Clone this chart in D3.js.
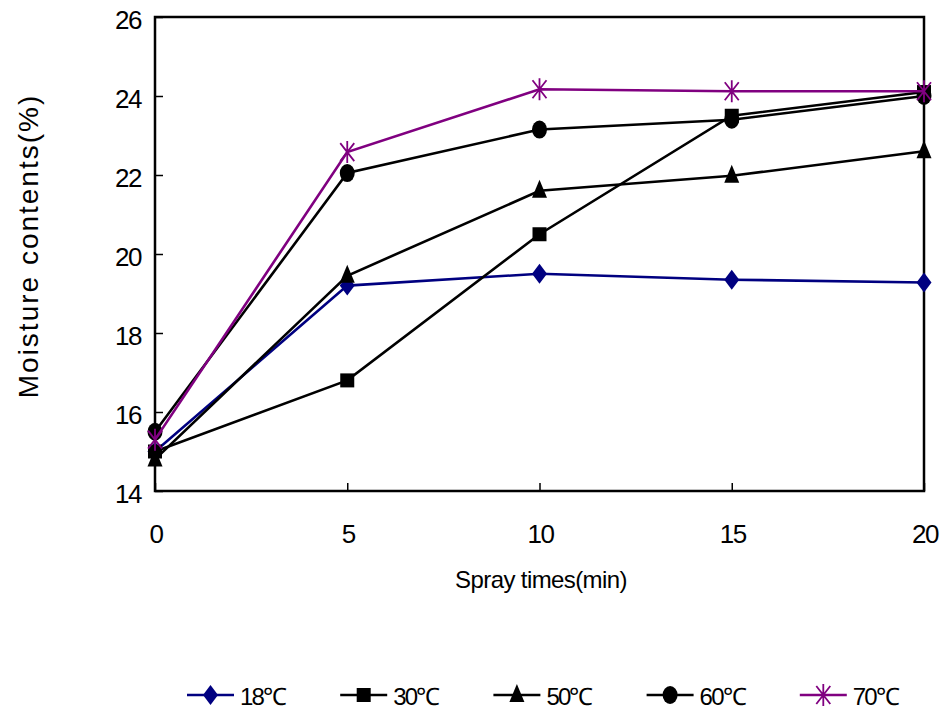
<!DOCTYPE html>
<html>
<head>
<meta charset="utf-8">
<script src="https://cdn.jsdelivr.net/npm/d3@7"></script>
<style>
  body { margin: 0; background: #fff; }
  svg text { font-family: "Liberation Sans", Arial, sans-serif; fill: #000; }
</style>
</head>
<body>
<svg id="chart" width="947" height="717"></svg>
<script>
// Spray time (min) on the x axis
const sprayTimes = [0, 5, 10, 15, 20];
// Moisture content (%) for each drying temperature
const series18 = [15.0, 19.2, 19.5, 19.35, 19.28];
const series30 = [15.0, 16.8, 20.5, 23.5, 24.1];
const series50 = [14.8, 19.45, 21.6, 21.98, 22.6];
const series60 = [15.5, 22.05, 23.15, 23.4, 24.0];
const series70 = [15.3, 22.58, 24.17, 24.12, 24.12];
const seriesNames = ["18℃", "30℃", "50℃", "60℃", "70℃"];
const xTicks = [0, 5, 10, 15, 20];
const yTicks = [14, 16, 18, 20, 22, 24, 26];

const seriesList = [
  { name: seriesNames[0], values: series18, color: "#000080", marker: "diamond" },
  { name: seriesNames[1], values: series30, color: "#000000", marker: "square" },
  { name: seriesNames[2], values: series50, color: "#000000", marker: "triangle" },
  { name: seriesNames[3], values: series60, color: "#000000", marker: "circle" },
  { name: seriesNames[4], values: series70, color: "#800080", marker: "star" }
];

const svg = d3.select("#chart");
const plotLeft = 155, plotRight = 924, plotTop = 17, plotBottom = 491;

const x = d3.scaleLinear().domain([0, 20]).range([plotLeft, plotRight]);
const y = d3.scaleLinear().domain([14, 26]).range([plotBottom, plotTop]);

// Plot frame
svg.append("rect")
  .attr("x", plotLeft).attr("y", plotTop)
  .attr("width", plotRight - plotLeft).attr("height", plotBottom - plotTop)
  .attr("fill", "none").attr("stroke", "#000").attr("stroke-width", 2.5);

// Y axis: ticks pointing inward
const yAxis = svg.append("g").attr("transform", `translate(${plotLeft},0)`)
  .call(d3.axisRight(y).tickValues(yTicks).tickSize(8).tickFormat(""));
yAxis.select(".domain").remove();
yAxis.selectAll("line").attr("stroke", "#000").attr("stroke-width", 1.5);
svg.append("g").selectAll("text").data(yTicks).join("text")
  .attr("x", plotLeft - 14).attr("y", d => y(d) + 3)
  .attr("dy", "0.36em").attr("text-anchor", "end")
  .attr("font-size", 26).attr("letter-spacing", -1.5).text(d => d);

// X axis: ticks pointing inward
const xAxis = svg.append("g").attr("transform", `translate(0,${plotBottom})`)
  .call(d3.axisTop(x).tickValues(xTicks).tickSize(8).tickFormat(""));
xAxis.select(".domain").remove();
xAxis.selectAll("line").attr("stroke", "#000").attr("stroke-width", 1.5);
svg.append("g").selectAll("text").data(xTicks).join("text")
  .attr("x", d => x(d) + 1).attr("y", 534)
  .attr("dy", "0.36em").attr("text-anchor", "middle")
  .attr("font-size", 26).attr("letter-spacing", -1.5).text(d => d);

// Axis titles
svg.append("text").attr("x", 541).attr("y", 579)
  .attr("dy", "0.36em").attr("text-anchor", "middle")
  .attr("font-size", 24).attr("letter-spacing", -0.6).text("Spray times(min)");
svg.append("text")
  .attr("transform", `translate(28,246) rotate(-90)`)
  .attr("dy", "0.36em").attr("text-anchor", "middle")
  .attr("font-size", 28).attr("letter-spacing", 2).text("Moisture contents(%)");

// Marker drawing
function drawMarker(g, type, color) {
  if (type === "diamond") {
    g.append("path").attr("d", "M0,-10L7.5,0L0,10L-7.5,0Z").attr("fill", color);
  } else if (type === "square") {
    g.append("rect").attr("x", -7).attr("y", -7).attr("width", 14).attr("height", 14).attr("fill", color);
  } else if (type === "triangle") {
    g.append("path").attr("d", "M0,-11L7.5,7L-7.5,7Z").attr("fill", color);
  } else if (type === "circle") {
    g.append("ellipse").attr("rx", 7.5).attr("ry", 9).attr("fill", color);
  } else if (type === "star") {
    g.append("path")
      .attr("d", "M0,-11L0,11M-7,-9L7,9M7,-9L-7,9")
      .attr("stroke", color).attr("stroke-width", 1.8).attr("fill", "none");
  }
}

const line = d3.line().x((d, i) => x(sprayTimes[i])).y(d => y(d));

seriesList.forEach(s => {
  const g = svg.append("g");
  g.append("path").datum(s.values).attr("d", line)
    .attr("fill", "none").attr("stroke", s.color).attr("stroke-width", 2.6);
  s.values.forEach((v, i) => {
    drawMarker(g.append("g").attr("transform", `translate(${x(sprayTimes[i])},${y(v)})`), s.marker, s.color);
  });
});

// Legend
const legend = svg.append("g");
seriesList.forEach((s, i) => {
  const lx = 187 + i * 153.2, ly = 695;
  const g = legend.append("g").attr("transform", `translate(${lx},${ly})`);
  g.append("line").attr("x1", 0).attr("x2", 47).attr("y1", 0).attr("y2", 0)
    .attr("stroke", s.color).attr("stroke-width", 2.6);
  drawMarker(g.append("g").attr("transform", "translate(23.5,0)"), s.marker, s.color);
  g.append("text").attr("x", 53).attr("y", 1).attr("dy", "0.36em")
    .attr("font-size", 24).attr("letter-spacing", -1.8).text(s.name);
});
</script>
</body>
</html>
